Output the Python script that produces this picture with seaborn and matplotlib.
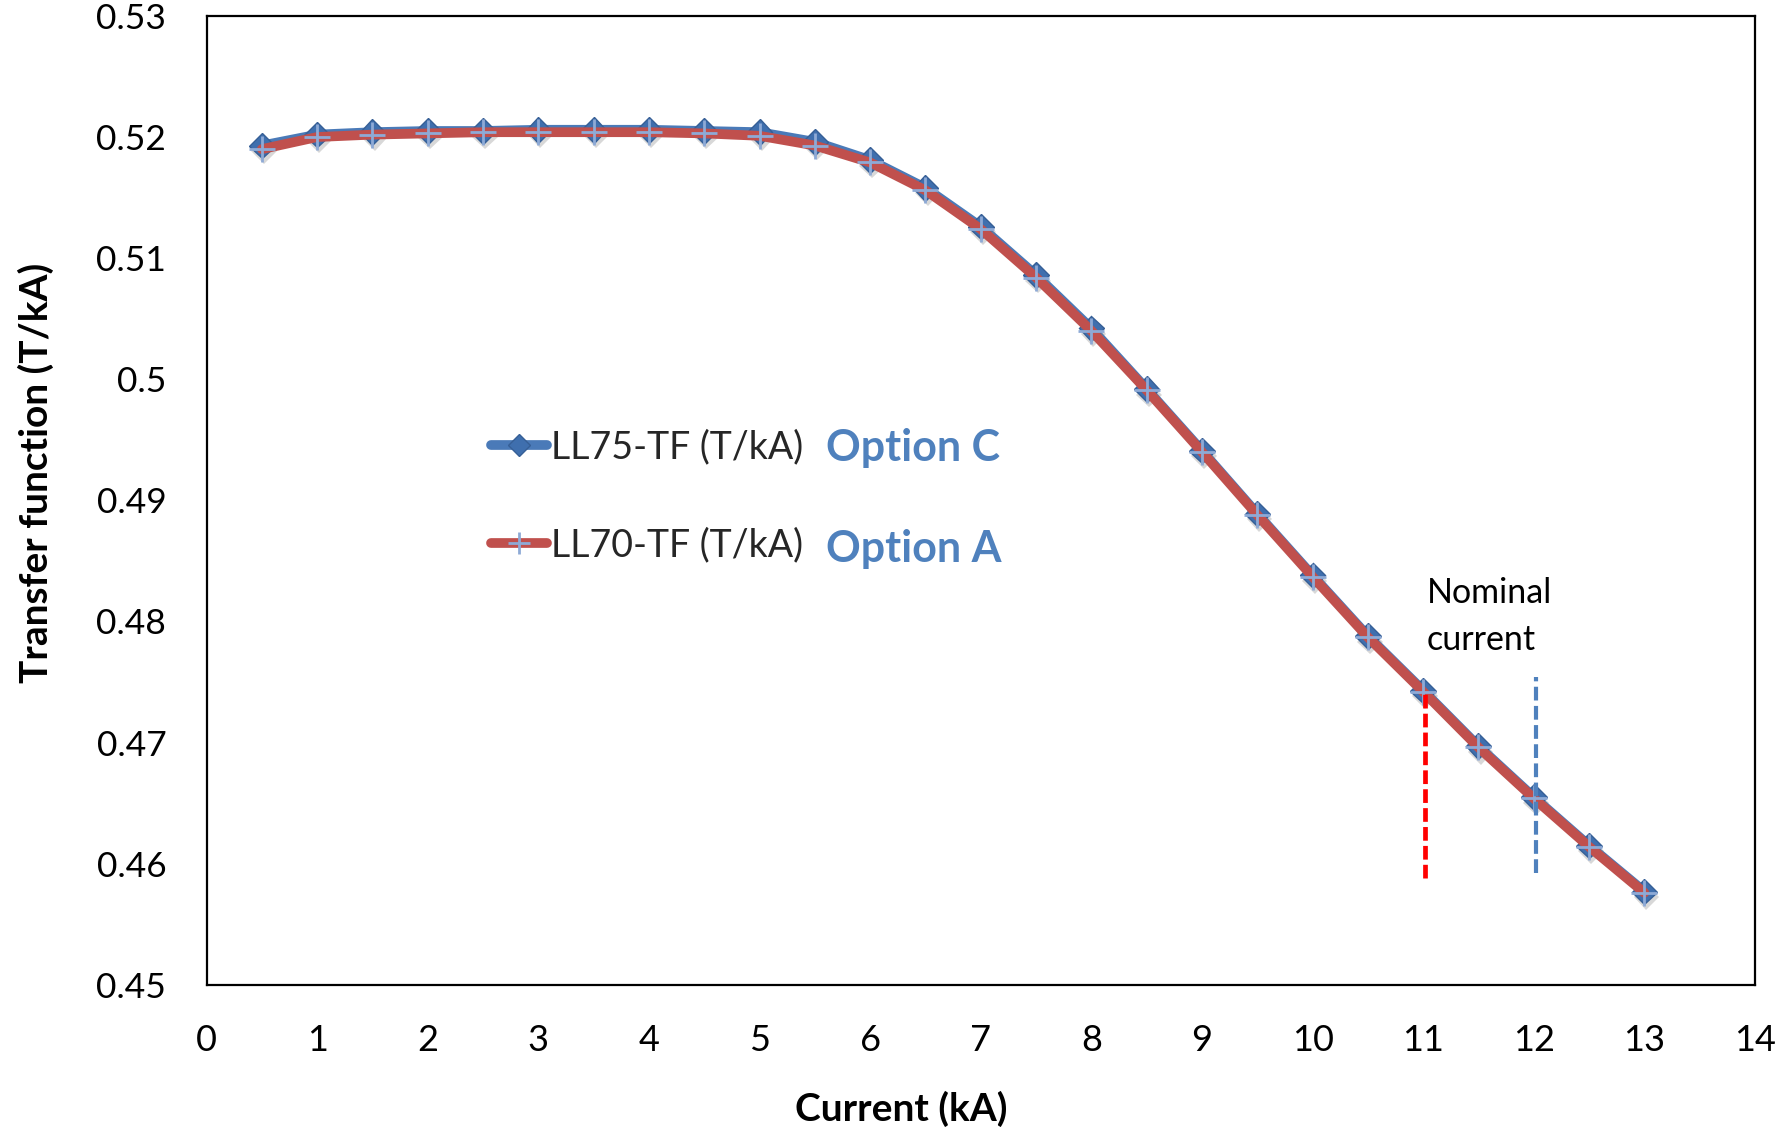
import matplotlib
matplotlib.use("Agg")
import matplotlib.pyplot as plt
import matplotlib.patheffects as pe
from matplotlib.lines import Line2D
import seaborn as sns

# Excitation current (kA)
current = [0.5, 1.0, 1.5, 2.0, 2.5, 3.0, 3.5, 4.0, 4.5, 5.0, 5.5, 6.0, 6.5,
           7.0, 7.5, 8.0, 8.5, 9.0, 9.5, 10.0, 10.5, 11.0, 11.5, 12.0, 12.5, 13.0]

# Transfer function (T/kA), LL75 lamination (Option C)
tf_ll75 = [0.5193, 0.5202, 0.5204, 0.5205, 0.5205, 0.5206, 0.5206, 0.5206, 0.5205,
           0.5204, 0.5196, 0.5181, 0.5158, 0.5126, 0.5086, 0.5042, 0.4992, 0.4941,
           0.4889, 0.4838, 0.4788, 0.4743, 0.4697, 0.4655, 0.4615, 0.4577]

# Transfer function (T/kA), LL70 lamination (Option A)
tf_ll70 = [0.5190, 0.5200, 0.5202, 0.5203, 0.5204, 0.5204, 0.5204, 0.5204, 0.5203,
           0.5201, 0.5193, 0.5179, 0.5156, 0.5124, 0.5084, 0.5040, 0.4991, 0.4940,
           0.4888, 0.4837, 0.4787, 0.4742, 0.4696, 0.4654, 0.4614, 0.4576]

series_labels = ["LL75-TF (T/kA)", "LL70-TF (T/kA)"]
option_labels = ["Option C", "Option A"]
option_y = [0.4943, 0.4860]

# Nominal current markers: position (kA), bottom and top of the dashed line
nominal_x = [11.02, 12.02]
nominal_y0 = [0.4588, 0.4592]
nominal_y1 = [0.4742, 0.4754]

x_ticks = list(range(0, 15))
y_ticks = [0.45, 0.46, 0.47, 0.48, 0.49, 0.50, 0.51, 0.52, 0.53]
y_ticklabels = ["0.45", "0.46", "0.47", "0.48", "0.49", "0.5", "0.51", "0.52", "0.53"]

BLUE_LINE = "#4a7ab8"
BLUE_MARK = "#3f6fae"
BLUE_EDGE = "#365f96"
RED_LINE = "#c0504d"
PLUS = "#8eaad6"
OPTION_BLUE = "#4f81bd"

sns.set_theme(style="white")
plt.rcParams["font.family"] = ["Lato", "DejaVu Sans"]

fig = plt.figure(figsize=(17.79, 11.30), dpi=100)
ax = fig.add_axes([0.1161, 0.1285, 0.8704, 0.8574])

# LL75 line, then its diamond markers with a soft drop shadow
sns.lineplot(x=current, y=tf_ll75, ax=ax, color=BLUE_LINE, lw=7,
             solid_capstyle="round", solid_joinstyle="round", zorder=2)
sns.lineplot(x=current, y=tf_ll75, ax=ax, color=BLUE_LINE, linestyle="",
             marker="D", markersize=13, markerfacecolor=BLUE_MARK,
             markeredgecolor=BLUE_EDGE, markeredgewidth=1.0, zorder=3,
             path_effects=[pe.SimplePatchShadow(offset=(1.5, -4), shadow_rgbFace="0.5", alpha=0.3),
                           pe.Normal()])
# LL70 line on top with light plus markers
sns.lineplot(x=current, y=tf_ll70, ax=ax, color=RED_LINE, lw=7,
             solid_capstyle="round", solid_joinstyle="round", zorder=4)
sns.lineplot(x=current, y=tf_ll70, ax=ax, color=PLUS, linestyle="",
             marker="+", markersize=19, markeredgecolor=PLUS,
             markeredgewidth=2.0, zorder=5)

# Nominal current indicators
ax.vlines(nominal_x[0], nominal_y0[0], nominal_y1[0], colors="#ff0000",
          linewidth=3.4, linestyles=(0, (2.9, 1.1)), zorder=6)
ax.vlines(nominal_x[1], nominal_y0[1], nominal_y1[1], colors=OPTION_BLUE,
          linewidth=3.0, linestyles=(0, (3.3, 1.3)), zorder=6)
ax.text(11.03, 0.4837, "Nominal\ncurrent", fontsize=24.5, color="black",
        ha="left", va="top", linespacing=1.6)

ax.set_xlim(0, 14)
ax.set_ylim(0.45, 0.53)
ax.set_xticks(x_ticks)
ax.set_xticklabels([str(t) for t in x_ticks])
ax.set_yticks(y_ticks)
ax.set_yticklabels(y_ticklabels)
ax.tick_params(axis="both", length=0, colors="black")
ax.tick_params(axis="y", labelsize=25.5, pad=29)
ax.tick_params(axis="x", labelsize=26, pad=28)
ax.grid(False)
for s in ax.spines.values():
    s.set_color("black")
    s.set_linewidth(1.6)

ax.set_xlabel("Current (kA)", fontsize=28, fontweight="bold", color="black")
ax.set_ylabel("Transfer function (T/kA)", fontsize=28, fontweight="bold", color="black")
ax.xaxis.set_label_coords(0.4484, -0.128)
ax.xaxis.label.set_va("center")
ax.yaxis.set_label_coords(-0.110, 0.5288)
ax.yaxis.label.set_va("center")

# Legend with the two series styles
handles = [
    Line2D([], [], color=BLUE_LINE, lw=7, solid_capstyle="round", marker="D",
           markersize=11, markerfacecolor=BLUE_MARK, markeredgecolor=BLUE_EDGE),
    Line2D([], [], color=RED_LINE, lw=7, solid_capstyle="round", marker="+",
           markersize=16, markeredgecolor=PLUS, markeredgewidth=2.0),
]
ax.legend(handles, series_labels, loc="center left", bbox_to_anchor=(0.1837, 0.5045),
          frameon=False, fontsize=27, handlelength=1.5, handletextpad=0.1,
          borderpad=0, borderaxespad=0, labelspacing=1.65)

for lab, yv in zip(option_labels, option_y):
    ax.text(5.60, yv, lab, fontsize=31, fontweight="bold", color=OPTION_BLUE,
            ha="left", va="center")

fig.savefig("out.png", dpi=100)
